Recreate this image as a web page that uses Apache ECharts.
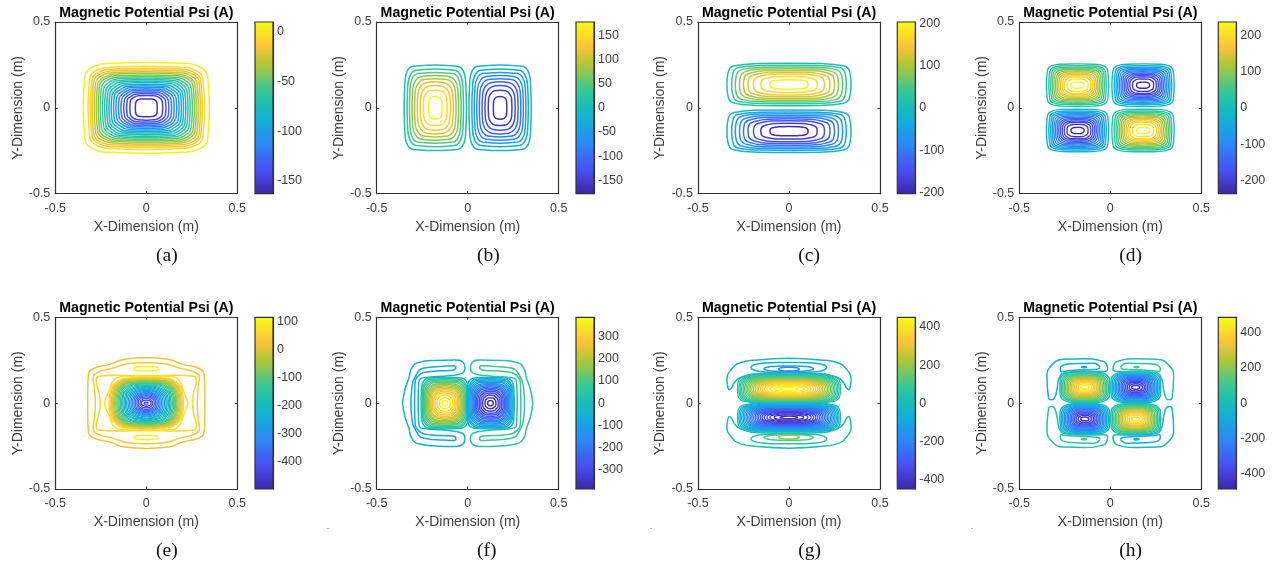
<!DOCTYPE html>
<html><head><meta charset="utf-8">
<style>html,body{margin:0;padding:0;background:#fff}#c{width:1274px;height:568px}</style>
<script src="https://cdn.jsdelivr.net/npm/echarts@6/dist/echarts.min.js"></script>
</head><body><div id="c"></div>
<script>
// ---------- values ----------
const captions = ['(a)','(b)','(c)','(d)','(e)','(f)','(g)','(h)'];
const barRanges = [[-163,10],[-178,178],[-203,203],[-236,236],[-497,116],[-388,388],[-451,451],[-488,488]];
const barTicks = [
 [-150,-100,-50,0],[-150,-100,-50,0,50,100,150],[-200,-100,0,100,200],[-200,-100,0,100,200],
 [-400,-300,-200,-100,0,100],[-300,-200,-100,0,100,200,300],[-400,-200,0,200,400],[-400,-200,0,200,400]];

// Each shape: one quadrant of a closed level line, x,y pairs in metres.
const levelsA = [5,-3,-11,-19,-27,-35,-43,-51,-59,-67,-75,-83,-91,-99,-107,-115,-123,-131,-139,-147,-155];
const shapesA = [
[.346,0,.341,.132,.305,.232,.173,.26,0,.264],[.32,0,.315,.121,.282,.213,.16,.238,0,.242],
[.308,0,.303,.115,.271,.202,.154,.227,0,.23],[.297,0,.293,.11,.261,.194,.149,.217,0,.22],
[.286,0,.282,.105,.25,.185,.143,.207,0,.21],[.275,0,.271,.1,.24,.175,.138,.198,0,.201],
[.264,0,.26,.096,.23,.167,.132,.189,0,.192],[.253,0,.249,.092,.218,.158,.127,.18,0,.183],
[.241,0,.237,.087,.206,.149,.121,.171,0,.174],[.229,0,.225,.083,.194,.14,.115,.162,0,.165],
[.217,0,.213,.078,.182,.131,.109,.153,0,.156],[.205,0,.201,.074,.17,.122,.103,.144,0,.147],
[.193,0,.189,.069,.158,.113,.097,.135,0,.138],[.18,0,.176,.065,.146,.104,.09,.126,0,.129],
[.167,0,.163,.06,.134,.096,.084,.118,0,.12],[.153,0,.149,.056,.122,.089,.077,.109,0,.111],
[.139,0,.135,.051,.11,.081,.07,.1,0,.102],[.124,0,.12,.047,.098,.074,.062,.091,0,.093],
[.108,0,.105,.042,.086,.066,.054,.081,0,.083],[.09,0,.088,.036,.073,.058,.045,.07,0,.072],
[.06,0,.059,.026,.05,.044,.03,.051,0,.052]];

const lobesB = [[-.178,0,1],[.178,0,-1]];
const levelsB = [10,30,50,70,90,110,130,150,170];
const shapesB = [
[.171,0,.168,.125,.15,.222,.086,.245,0,.249],[.155,0,.152,.113,.134,.198,.078,.222,0,.226],
[.142,0,.139,.103,.122,.18,.071,.202,0,.206],[.128,0,.125,.094,.108,.16,.063,.184,0,.188],
[.114,0,.111,.085,.095,.142,.055,.166,0,.17],[.099,0,.096,.076,.081,.124,.047,.148,0,.152],
[.083,0,.08,.065,.067,.104,.038,.126,0,.13],[.065,0,.063,.052,.052,.082,.03,.1,0,.103],
[.037,0,.036,.034,.03,.054,.016,.064,0,.066]];

const lobesC = [[0,.136,1],[0,-.136,-1]];
const levelsC = [15,38,60,82,105,128,150,172,195];
const shapesC = [
[.341,0,.336,.062,.3,.109,.17,.122,0,.124],[.315,0,.31,.056,.277,.099,.158,.11,0,.112],
[.295,0,.29,.051,.256,.088,.148,.1,0,.102],[.272,0,.267,.046,.23,.078,.136,.09,0,.092],
[.25,0,.245,.041,.208,.068,.125,.08,0,.082],[.225,0,.22,.036,.184,.058,.112,.07,0,.072],
[.195,0,.19,.03,.156,.049,.095,.06,0,.061],[.155,0,.15,.023,.12,.037,.07,.045,0,.046],
[.105,0,.1,.015,.078,.023,.045,.026,0,.027]];

const lobesD = [[-.18,.132,1],[.18,.132,-1],[-.18,-.132,-1],[.18,-.132,1]];
const levelsD = [15,33,51,69,87,105,123,141,159,177,195,213,231];
const shapesD = [
[.171,0,.168,.062,.15,.109,.086,.122,0,.124],[.158,0,.155,.057,.139,.1,.079,.112,0,.114],
[.148,0,.145,.053,.13,.093,.074,.104,0,.106],[.139,0,.136,.05,.121,.086,.07,.097,0,.099],
[.13,0,.127,.046,.112,.079,.065,.09,0,.092],[.121,0,.118,.043,.103,.072,.06,.083,0,.085],
[.112,0,.109,.039,.094,.065,.056,.076,0,.078],[.103,0,.1,.036,.085,.058,.051,.069,0,.071],
[.094,0,.091,.032,.076,.052,.046,.062,0,.064],[.084,0,.081,.028,.067,.045,.041,.054,0,.056],
[.073,0,.07,.024,.057,.038,.036,.047,0,.048],[.058,0,.056,.018,.045,.028,.028,.035,0,.036],
[.036,0,.034,.009,.027,.014,.016,.0175,0,.018]];

const outerLevelsE = [20,40,60,80];
const outerShapesE = [
[.322,0,.321,.1,.318,.165,.29,.202,.2,.226,.12,.256,0,.264],
[.28,0,.284,.08,.292,.15,.265,.18,.18,.205,.1,.23,0,.236],
[.253,0,.26,.06,.275,.13,.255,.158,.17,.162,0,.16],
[.23,0,.205,.07,.178,.135,.125,.155,0,.157]];
const levelsE = [60,40,20,0,-20,-40,-60,-80,-100,-120,-140,-160,-180,-200,-220,-240,-260,-280,-300,-320,-340,-360,-380,-400,-420,-440,-460];
const shapesE = [
[.205,0,.197,.076,.164,.122,.102,.146,0,.152],[.198,0,.19,.074,.158,.118,.099,.142,0,.148],
[.192,0,.184,.072,.154,.115,.096,.138,0,.144],[.186,0,.179,.07,.149,.112,.093,.134,0,.14],
[.18,0,.173,.068,.144,.109,.09,.131,0,.136],[.174,0,.167,.066,.139,.106,.087,.127,0,.132],
[.168,0,.161,.064,.134,.102,.084,.123,0,.128],[.162,0,.155,.062,.13,.099,.081,.119,0,.124],
[.156,0,.149,.06,.124,.096,.078,.115,0,.12],[.15,0,.143,.058,.119,.092,.075,.111,0,.116],
[.143,0,.136,.056,.112,.087,.071,.106,0,.112],[.136,0,.129,.053,.105,.082,.068,.101,0,.107],
[.129,0,.124,.051,.099,.078,.064,.093,0,.102],[.122,0,.116,.048,.092,.073,.061,.088,0,.097],
[.115,0,.109,.046,.085,.068,.057,.082,0,.092],[.108,0,.102,.043,.078,.063,.054,.076,0,.087],
[.1,0,.094,.04,.072,.058,.05,.07,0,.08],[.092,0,.086,.037,.066,.053,.046,.065,0,.074],
[.084,0,.078,.034,.06,.049,.042,.059,0,.068],[.076,0,.071,.031,.054,.044,.038,.054,0,.062],
[.068,0,.063,.028,.048,.04,.034,.049,0,.056],[.06,0,.056,.025,.043,.036,.03,.044,0,.05],
[.052,0,.048,.022,.037,.031,.026,.038,0,.044],[.044,0,.041,.018,.032,.026,.022,.032,0,.037],
[.035,0,.032,.012,.025,.019,.017,.025,0,.028],[.027,0,.024,.009,.019,.013,.012,.016,0,.018],
[.012,0,.011,.003,.008,.004,.005,.0055,0,.006]];
const isletE = {level:100, cy:.2, shape:[.067,0,.06,.008,.03,.012,0,.013]};

const lobesF = [[-.125,0,1],[.125,0,-1]];
const levelsF = [20,44,68,92,116,140,164,188,212,236,260,284,308,332,356,380];
const shapesF = [
[.131,0,.129,.075,.115,.132,.066,.148,0,.15],[.125,0,.123,.071,.107,.122,.063,.141,0,.143],
[.119,0,.117,.068,.101,.114,.06,.134,0,.136],[.113,0,.111,.064,.095,.107,.057,.127,0,.129],
[.107,0,.105,.061,.089,.1,.054,.12,0,.122],[.101,0,.099,.057,.083,.094,.051,.112,0,.115],
[.095,0,.092,.054,.077,.087,.048,.105,0,.108],[.089,0,.086,.05,.071,.08,.045,.098,0,.101],
[.083,0,.08,.047,.065,.073,.042,.09,0,.094],[.077,0,.074,.043,.06,.066,.039,.082,0,.086],
[.07,0,.067,.039,.053,.058,.035,.074,0,.078],[.062,0,.059,.034,.046,.051,.031,.065,0,.069],
[.053,0,.05,.029,.039,.043,.027,.055,0,.059],[.043,0,.04,.023,.031,.034,.021,.043,0,.047],
[.03,0,.028,.016,.021,.023,.015,.029,0,.032],[.015,0,.014,.008,.011,.011,.007,.014,0,.016]];
// outer C-shaped lines of (f): upper half of the right-hand side; the level is its sign on that side
const shellLevelsF = [40,80];
const shellsF = [
[.358,0,.345,.078,.323,.146,.308,.204,.27,.237,.18,.249,.07,.252,.024,.237,.015,.204,.03,.175,.106,.159,.217,.151,.268,.126,.272,0],
[.312,0,.308,.078,.285,.16,.24,.205,.13,.215,.075,.218,.065,.204,.085,.192,.2,.185,.27,.16,.29,.1,.292,0]];

const lobesG = [[0,.083,1],[0,-.083,-1]];
const levelsG = [20,40,60,80,100,120,140,160,180,200,220,240,260,280,300,320,340,360,380,400,420,440];
const shapesG = [
[.283,0,.279,.042,.245,.073,.142,.084,0,.085],[.275,0,.27,.04,.236,.069,.138,.08,0,.081],
[.268,0,.262,.038,.228,.065,.134,.076,0,.077],[.26,0,.254,.036,.22,.062,.13,.072,0,.073],
[.252,0,.246,.035,.212,.059,.126,.069,0,.07],[.244,0,.238,.033,.204,.056,.122,.066,0,.067],
[.236,0,.229,.032,.196,.053,.118,.063,0,.064],[.228,0,.221,.03,.188,.05,.114,.06,0,.061],
[.22,0,.213,.029,.18,.047,.11,.057,0,.058],[.212,0,.205,.027,.172,.044,.106,.054,0,.055],
[.204,0,.196,.026,.163,.041,.102,.051,0,.052],[.195,0,.187,.024,.154,.038,.098,.048,0,.049],
[.186,0,.178,.023,.146,.036,.093,.045,0,.046],[.177,0,.169,.021,.137,.033,.088,.042,0,.043],
[.168,0,.16,.02,.128,.03,.084,.039,0,.04],[.158,0,.149,.018,.118,.028,.079,.036,0,.037],
[.148,0,.139,.017,.108,.025,.074,.033,0,.034],[.136,0,.127,.015,.098,.022,.068,.029,0,.03],
[.122,0,.113,.013,.086,.019,.05,.025,0,.026],[.105,0,.097,.01,.074,.015,.042,.02,0,.021],
[.082,0,.074,.007,.057,.011,.033,.014,0,.015],[.05,0,.045,.003,.035,.005,.02,.0067,0,.007]];
// shell and lenses of (g): upper right part, level as it is above the axis
const shellLevelG = -20;
const shellG = [0,.262,.172,.252,.264,.237,.319,.194,.341,.136,.335,.09,.328,.078,.315,.09,.3,.12,.264,.151,.154,.172,0,.175];
const lensLevelsG = [-50,-120,-180];
const lensCentresG = [.208,.2,.198];
const lensesG = [[.209,0,.19,.016,.13,.026,.06,.029,0,.029],[.137,0,.12,.009,.08,.014,.04,.016,0,.016],[.058,0,.05,.006,.03,.01,.015,.011,0,.011]];

const lobesH = [[-.14,.092,1],[.14,.092,-1],[-.14,-.092,-1],[.14,-.092,1]];
const levelsH = [30,62,94,126,158,190,222,254,286,318,350,382,414,446];
const shapesH = [
[.137,0,.135,.045,.115,.075,.068,.089,0,.09],[.129,0,.127,.042,.107,.069,.064,.083,0,.084],
[.121,0,.119,.039,.1,.064,.06,.077,0,.078],[.113,0,.111,.036,.091,.059,.056,.072,0,.073],
[.105,0,.103,.034,.084,.054,.052,.067,0,.068],[.097,0,.095,.031,.077,.05,.048,.062,0,.063],
[.089,0,.087,.029,.07,.046,.044,.057,0,.058],[.081,0,.079,.026,.063,.041,.04,.052,0,.053],
[.073,0,.071,.023,.056,.036,.036,.046,0,.047],[.065,0,.063,.02,.049,.031,.032,.04,0,.041],
[.056,0,.054,.017,.042,.026,.028,.034,0,.035],[.047,0,.045,.014,.034,.021,.023,.028,0,.029],
[.036,0,.034,.01,.026,.015,.018,.02,0,.021],[.022,0,.021,.006,.016,.008,.011,.0105,0,.011]];
// closed lines of (h) in the upper right quadrant; level as it is there
const shellLevelsH = [40,75,117];
const shellsH = [
[.015,.204,.037,.243,.147,.258,.256,.256,.32,.223,.348,.155,.339,.029,.325,.02,.311,.023,.293,.078,.284,.136,.256,.175,.147,.186,.037,.184,.015,.194,.015,.204],
[.055,.21,.092,.233,.22,.229,.275,.2,.27,.184,.22,.19,.147,.194,.073,.198,.055,.21],
[.128,.21,.143,.214,.158,.21,.143,.206,.128,.21]];

// ---------- drawing helpers ----------
const PARULA = [[0,'#3e26a8'],[.143,'#4752f4'],[.286,'#2d87f7'],[.429,'#12b1d6'],[.508,'#19bdb6'],[.6,'#37c897'],[.746,'#abc739'],[.857,'#fec338'],[1,'#f9fb15']];
function hex(c){return [1,3,5].map(i=>parseInt(c.substr(i,2),16));}
function colorOf(v,r){
  const t=Math.max(0,Math.min(1,(v-r[0])/(r[1]-r[0])));
  for(let i=1;i<PARULA.length;i++){
    if(t<=PARULA[i][0]){
      const a=PARULA[i-1],b=PARULA[i],k=(t-a[0])/(b[0]-a[0]),p=hex(a[1]),q=hex(b[1]);
      return 'rgb('+p.map((x,j)=>Math.round(x+(q[j]-x)*k)).join(',')+')';
    }
  }
  return PARULA[PARULA.length-1][1];
}
function pairs(f){const o=[];for(let i=0;i<f.length;i+=2)o.push([f[i],f[i+1]]);return o;}
function loop(f,cx,cy){ // reflect a quadrant about the lobe centre
  const q=pairs(f),o=[];
  q.forEach(p=>o.push([cx+p[0],cy+p[1]]));
  q.slice(0,-1).reverse().forEach(p=>o.push([cx-p[0],cy+p[1]]));
  q.slice(1).forEach(p=>o.push([cx-p[0],cy-p[1]]));
  q.slice(0,-1).reverse().forEach(p=>o.push([cx+p[0],cy-p[1]]));
  return o;
}
function halfY(f,sx){ // upper half path closed through its mirror in y=0
  const q=pairs(f).map(p=>[sx*p[0],p[1]]);
  return q.concat(q.slice(0,-1).reverse().map(p=>[p[0],-p[1]]));
}
function halfX(f,sy){ // right half path closed through its mirror in x=0
  const q=pairs(f).map(p=>[p[0],sy*p[1]]);
  return q.concat(q.slice(0,-1).reverse().map(p=>[-p[0],p[1]]));
}

const panelLeft=[55.3,376.7,698,1019.3], barLeft=[255,576,897.3,1218.3], rowTop=[22,317.3];
const PW=182, PH=171.7, BW=18;
const FONT='"Liberation Sans",Arial,sans-serif', INK='#404040', BOX='#333333';
const grid=[],xAxis=[],yAxis=[],series=[],title=[],graphic=[];

function line(panel,level,data,w){
  const r=barRanges[panel];
  series.push({type:'line',xAxisIndex:panel*2,yAxisIndex:panel*2,data:data,symbol:'none',smooth:.5,silent:true,animation:false,
    lineStyle:{width:w||1.5,color:colorOf(level,r)},z:3});
}

for(let i=0;i<8;i++){
  const col=i%4,row=i<4?0:1,L=panelLeft[col],T=rowTop[row];
  grid.push({left:L,top:T,width:PW,height:PH,containLabel:false});
  const tick={inside:true,length:2.5,lineStyle:{color:BOX,width:1}};
  const axLine={show:true,onZero:false,lineStyle:{color:BOX,width:1.2}};
  const lab={color:INK,fontFamily:FONT,fontSize:12.5};
  const nameStyle={color:INK,fontFamily:FONT,fontSize:14};
  xAxis.push({gridIndex:i,type:'value',min:-.5,max:.5,interval:.5,position:'bottom',axisLine:axLine,axisTick:tick,
    axisLabel:Object.assign({margin:8},lab),splitLine:{show:false},name:'X-Dimension (m)',nameLocation:'middle',nameGap:26,nameTextStyle:nameStyle});
  yAxis.push({gridIndex:i,type:'value',min:-.5,max:.5,interval:.5,position:'left',axisLine:axLine,axisTick:tick,
    axisLabel:Object.assign({margin:5},lab),splitLine:{show:false},name:'Y-Dimension (m)',nameLocation:'middle',nameGap:30,nameTextStyle:nameStyle});
  xAxis.push({gridIndex:i,type:'value',min:-.5,max:.5,interval:.5,position:'top',axisLine:axLine,axisTick:tick,axisLabel:{show:false},splitLine:{show:false}});
  yAxis.push({gridIndex:i,type:'value',min:-.5,max:.5,interval:.5,position:'right',axisLine:axLine,axisTick:tick,axisLabel:{show:false},splitLine:{show:false}});
  title.push({text:'Magnetic Potential Psi (A)',left:L+PW/2,top:T-16,padding:0,textAlign:'center',
    textStyle:{fontFamily:FONT,fontSize:14.2,fontWeight:'bold',color:'#000'}});
  graphic.push({type:'text',left:barLeft[col]-99,top:row?541:246,silent:true,
    style:{text:captions[i],font:'19.5px "Liberation Serif","Times New Roman",serif',fill:'#111'}});
}
[327,650,971].forEach(x=>graphic.push({type:'rect',left:x,top:528,silent:true,shape:{width:2,height:1},style:{fill:'#b8b8b8'}}));
for(let i=0;i<8;i++){
  const col=i%4,row=i<4?0:1,r=barRanges[i],g=8+i;
  grid.push({left:barLeft[col],top:rowTop[row],width:BW,height:PH,show:true,borderColor:BOX,borderWidth:1.2,backgroundColor:'transparent',z:5});
  xAxis.push({gridIndex:g,type:'value',min:0,max:1,show:false});
  yAxis.push({gridIndex:g,type:'value',min:r[0],max:r[1],position:'right',
    axisLine:{show:true,onZero:false,lineStyle:{color:BOX,width:1.2}},
    axisTick:{show:true,inside:true,length:2.5,customValues:barTicks[i],lineStyle:{color:BOX}},
    axisLabel:{show:true,customValues:barTicks[i],color:INK,fontFamily:FONT,fontSize:12.5,margin:4},splitLine:{show:false}});
  series.push({type:'custom',xAxisIndex:16+i,yAxisIndex:16+i,silent:true,animation:false,clip:false,data:[[0,r[0],1,r[1]]],z:1,
    renderItem:(p,api)=>{
      const a=api.coord([api.value(0),api.value(1)]),b=api.coord([api.value(2),api.value(3)]);
      return {type:'rect',shape:{x:a[0],y:b[1],width:b[0]-a[0],height:a[1]-b[1]},
        style:{fill:new echarts.graphic.LinearGradient(0,1,0,0,PARULA.map(s=>({offset:s[0],color:s[1]})))}};
    }});
}

// ---------- contours ----------
shapesA.forEach((s,k)=>line(0,levelsA[k],loop(s,0,0)));
function lobes(panel,cs,levels,shapes,w){cs.forEach(c=>shapes.forEach((s,k)=>line(panel,c[2]*levels[k],loop(s,c[0],c[1]),w)));}
lobes(1,lobesB,levelsB,shapesB);
lobes(2,lobesC,levelsC,shapesC);
lobes(3,lobesD,levelsD,shapesD,1.4);
outerShapesE.forEach((s,k)=>line(4,outerLevelsE[k],loop(s,0,0)));
shapesE.forEach((s,k)=>line(4,levelsE[k],loop(s,0,0),1.3));
line(4,isletE.level,loop(isletE.shape,0,isletE.cy));
line(4,isletE.level,loop(isletE.shape,0,-isletE.cy));
lobes(5,lobesF,levelsF,shapesF,1.5);
shellsF.forEach((s,k)=>{line(5,shellLevelsF[k],halfY(s,1));line(5,-shellLevelsF[k],halfY(s,-1));});
lobes(6,lobesG,levelsG,shapesG,1.3);
line(6,shellLevelG,halfX(shellG,1));line(6,-shellLevelG,halfX(shellG,-1));
lensesG.forEach((s,k)=>{line(6,lensLevelsG[k],loop(s,0,lensCentresG[k]));line(6,-lensLevelsG[k],loop(s,0,-lensCentresG[k]));});
lobes(7,lobesH,levelsH,shapesH,1.5);
shellsH.forEach((s,k)=>{
  const q=pairs(s);
  line(7,shellLevelsH[k],q);
  line(7,-shellLevelsH[k],q.map(p=>[-p[0],p[1]]));
  line(7,-shellLevelsH[k],q.map(p=>[p[0],-p[1]]));
  line(7,shellLevelsH[k],q.map(p=>[-p[0],-p[1]]));
});

const chart=echarts.init(document.getElementById('c'),null,{renderer:'canvas'});
chart.setOption({animation:false,backgroundColor:'#fff',title,grid,xAxis,yAxis,series,graphic});
</script></body></html>
